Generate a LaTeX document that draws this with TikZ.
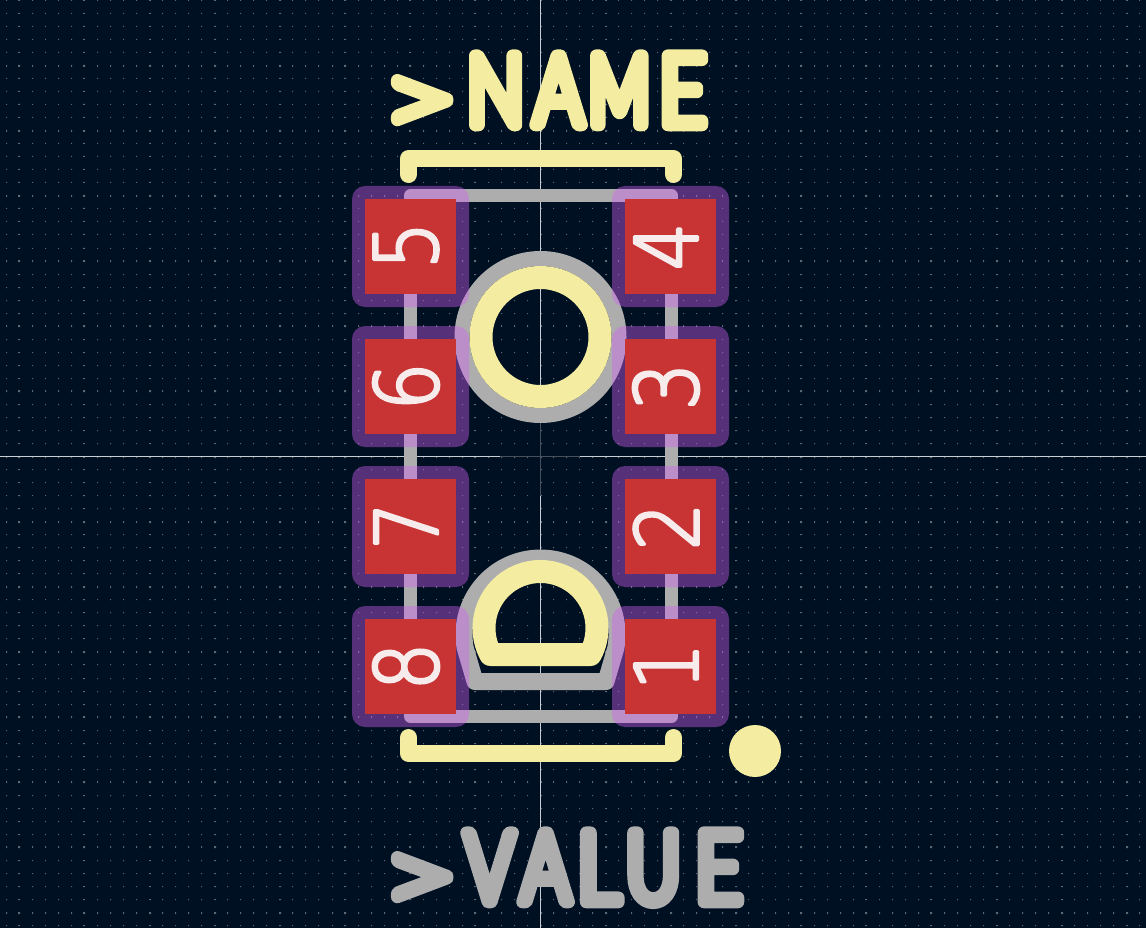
\documentclass[tikz,border=0pt]{standalone}
\usepackage{fontspec}
\setmainfont{Liberation Sans}
\newfontfamily\padfont[FakeStretch=0.85]{DejaVu Sans ExtraLight}
\newfontfamily\sfa[FakeStretch=0.75]{Lato Light}
\newfontfamily\sfm[FakeStretch=0.67]{Lato Light}
\newfontfamily\sfn[FakeStretch=0.76]{Lato Light}
\newfontfamily\sfe[FakeStretch=0.82]{Lato Light}
\newfontfamily\sfl[FakeStretch=0.85]{Lato Light}
\newfontfamily\sfg[FakeStretch=1.36]{Lato Light}
\definecolor{bgc}{RGB}{0,16,35}
\definecolor{gridc}{RGB}{95,103,113}
\definecolor{axisc}{RGB}{200,206,212}
\definecolor{axisd}{RGB}{70,80,92}
\definecolor{fabc}{RGB}{173,173,173}
\definecolor{maskc}{RGB}{207,97,242}
\definecolor{padc}{RGB}{200,52,52}
\definecolor{silkc}{RGB}{244,237,161}
\definecolor{numc}{RGB}{247,235,235}
\newcommand\strokedtext[2]{\special{pdf:code 2 Tr #1 w 1 j 1 J}#2\special{pdf:code 0 Tr}}
% one glyph in a box of fixed advance, in a given stretched face
\newcommand\gl[3]{\makebox[#2pt][l]{#1\selectfontsize #3}}
\newcommand\selectfontsize{\fontsize{98}{98}\selectfont}
\tikzset{
  x=1pt,y=-1pt,
  inner sep=0pt,outer sep=0pt,
  fabline/.style={draw=fabc,line width=13pt,line join=round},
  fabthick/.style={draw=fabc,line width=17pt,line join=round},
  silkline/.style={draw=silkc,line width=17pt,line cap=round,line join=round},
  maskbox/.style={fill=maskc,fill opacity=0.42,rounded corners=13pt},
  padbox/.style={fill=padc,rectangle,minimum width=91pt,minimum height=95pt},
  padnum/.style={text=numc,rotate=90,font=\padfont\fontsize{87}{87}\selectfont},
  bigtext/.style={anchor=base west},
}
\begin{document}
\begin{tikzpicture}
\useasboundingbox (0,0) rectangle (1146,928);
\fill[bgc] (0,0) rectangle (1146,928);
% grid
\foreach \j in {-35,...,36}{
  \pgfmathsetmacro{\yc}{456.5+13.03*\j}
  \pgfmathtruncatemacro{\jm}{mod(abs(\j),5)==0}
  \pgfmathsetmacro{\ya}{\jm==1 ? round(\yc)-1 : floor(\yc)}
  \pgfmathsetmacro{\yb}{\jm==1 ? round(\yc)+1 : floor(\yc)+1}
  \fill[gridc] \foreach \i in {-41,...,46}{
    \pgfextra{
      \pgfmathsetmacro{\xc}{540.5+13.03*\i}
      \pgfmathtruncatemacro{\im}{mod(abs(\i),5)==0}
      \pgfmathsetmacro{\xa}{\im==1 ? round(\xc)-1 : floor(\xc)}
      \pgfmathsetmacro{\xb}{\im==1 ? round(\xc)+1 : floor(\xc)+1}
    }
    (\xa,\ya) rectangle (\xb,\yb)
  };
}
% axes
\draw[axisc,line width=1pt] (0,456.5) -- (500,456.5) (580,456.5) -- (1146,456.5);
\draw[axisc,line width=1pt] (540.5,0) -- (540.5,416) (540.5,496) -- (540.5,928);
\draw[axisd,line width=1pt] (500,456.5) -- (580,456.5) (540.5,416) -- (540.5,496);
% fab outline
\draw[fabline] (410.5,195.5) rectangle (671.5,716.5);
\draw[fabline,line width=15pt] (540.5,337) circle[radius=78.5];
\draw[fabthick] (475,681.5) -- (465.2,647.8) arc[start angle=170,end angle=370,radius=76.5] -- (606,681.5) -- cycle;
% mask
\foreach \yy in {186,326,466,606}{
  \fill[maskbox] (352,\yy) rectangle (469,\yy+121);
  \fill[maskbox] (612,\yy) rectangle (729,\yy+121);
}
% pads
\node[padbox] (pad5) at (410.5,246.5) {};
\node[padbox] (pad6) at (410.5,386.5) {};
\node[padbox] (pad7) at (410.5,526.5) {};
\node[padbox] (pad8) at (410.5,666.5) {};
\node[padbox] (pad4) at (670.5,246.5) {};
\node[padbox] (pad3) at (670.5,386.5) {};
\node[padbox] (pad2) at (670.5,526.5) {};
\node[padbox] (pad1) at (670.5,666.5) {};
\node[padnum] (num5) at (406,245.5) {\strokedtext{3}{5}};
\node[padnum] (num6) at (406,386.5) {\strokedtext{3}{6}};
\node[padnum] (num7) at (406,526) {\strokedtext{3}{7}};
\node[padnum] (num8) at (406,666.5) {\strokedtext{3}{8}};
\node[padnum] (num4) at (666,246.5) {\strokedtext{3}{4}};
\node[padnum] (num3) at (666,386.5) {\strokedtext{3}{3}};
\node[padnum] (num2) at (666,526.5) {\strokedtext{3}{2}};
\node[padnum] (num1) at (666,666.5) {\strokedtext{3}{1}};
% silk
\draw[silkline] (408.5,174.5) -- (408.5,158.5) -- (673.5,158.5) -- (673.5,174.5);
\draw[silkline] (408.5,737.5) -- (408.5,753.5) -- (673.5,753.5) -- (673.5,737.5);
\draw[silkc,line width=23pt] (540.5,337) circle[radius=59.5];
\draw[silkc,line width=23pt,line join=round] (490.6,654.5) arc[start angle=152,end angle=388,radius=56.5] -- cycle;
\fill[silkc] (755,751) circle[radius=26];
\node[bigtext,text=silkc] (name) at (381.5,125) {\strokedtext{12.5}{\gl{\sfg}{86}{\raisebox{-8pt}{>}}\gl{\sfn}{67}{N}\gl{\sfa}{55}{A}\gl{\sfm}{70}{M}\gl{\sfe}{50}{E}}};
\node[bigtext,text=fabc] (value) at (381.5,902) {\strokedtext{12.5}{\gl{\sfg}{84}{\raisebox{-8pt}{>}}\gl{\sfa}{56}{V}\gl{\sfa}{56}{A}\gl{\sfl}{49}{L}\gl{\sfa}{69}{U}\gl{\sfe}{50}{E}}};
\end{tikzpicture}
\end{document}
